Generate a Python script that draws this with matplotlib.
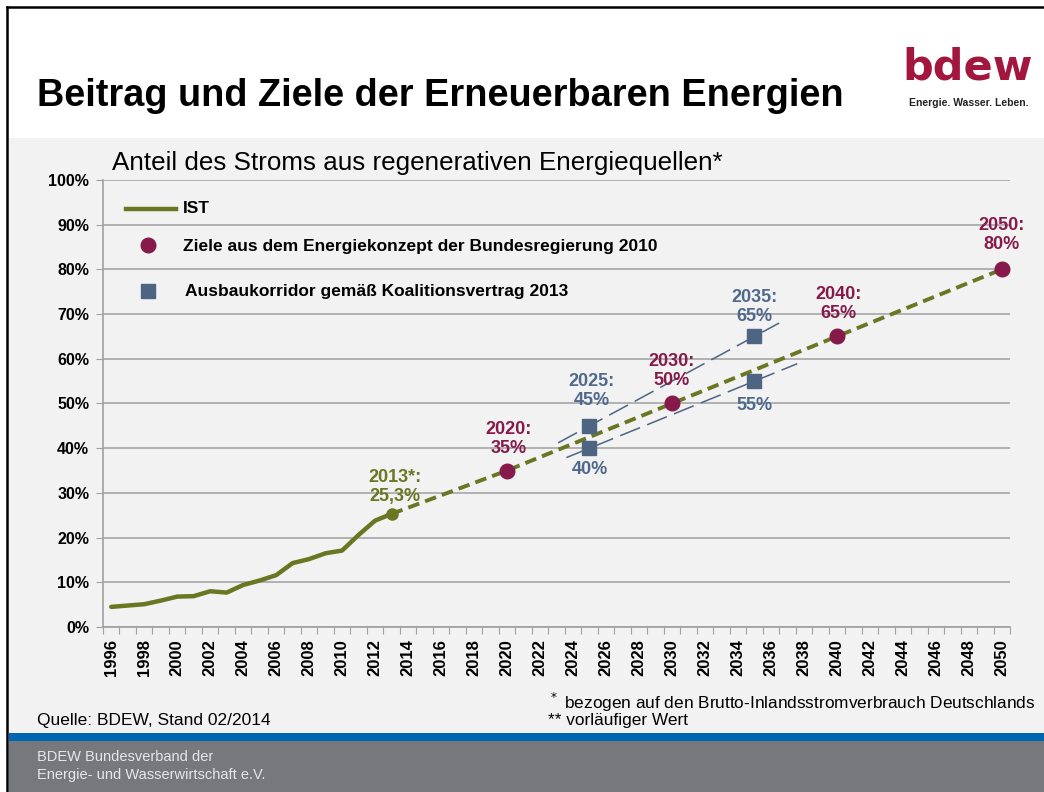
import numpy as np
import matplotlib
matplotlib.use('Agg')
import matplotlib.pyplot as plt
from matplotlib.patches import Rectangle
from matplotlib.lines import Line2D

plt.rcParams['font.family'] = ['Liberation Sans', 'DejaVu Sans']

# IST values (share of renewables in gross electricity consumption, %)
ist_years = [1996, 1997, 1998, 1999, 2000, 2001, 2002, 2003, 2004, 2005, 2006,
             2007, 2008, 2009, 2010, 2011, 2012, 2013]
ist_share = [4.5, 4.8, 5.1, 5.9, 6.8, 6.9, 8.0, 7.7, 9.4, 10.4, 11.6,
             14.3, 15.2, 16.5, 17.1, 20.6, 23.8, 25.3]

# targets of the Energiekonzept 2010
ziel_years = [2020, 2030, 2040, 2050]
ziel_share = [35, 50, 65, 80]

# Ausbaukorridor 2013
korr_years = [2025, 2025, 2035, 2035]
korr_share = [45, 40, 65, 55]

W, H = 1044, 792
olive = '#6A7622'
maroon = '#861A4A'
slate = '#4D6483'
slate_txt = '#50698A'

fig = plt.figure(figsize=(W / 100, H / 100), dpi=100)
fig.patch.set_facecolor('white')


def px_rect(x0, y0, x1, y1, color):
    # pixel box (top-left origin) -> figure fractions
    fig.add_artist(Rectangle((x0 / W, 1 - y1 / H), (x1 - x0) / W, (y1 - y0) / H,
                             transform=fig.transFigure, color=color, lw=0, zorder=0))


px_rect(9, 138, W, 733, '#F2F2F2')
px_rect(9, 733, W, 741, '#0066B2')
px_rect(9, 741, W, H, '#77787B')
fig.add_artist(Line2D([7 / W, 7 / W], [0, 1 - 7 / H], transform=fig.transFigure,
                      color='black', lw=1.8))
fig.add_artist(Line2D([7 / W, 1], [1 - 7 / H, 1 - 7 / H], transform=fig.transFigure,
                      color='black', lw=1.8))

# header
fig.text(37 / W, 1 - 96 / H, 'Beitrag und Ziele der Erneuerbaren Energien',
         fontsize=27.3, fontweight='bold', va='center', ha='left')
fig.text(968 / W, 1 - 67 / H, 'bdew', fontsize=31, color='#A3173E',
         family='DejaVu Sans', fontweight='bold', va='center', ha='center')
fig.text(969 / W, 1 - 103 / H, 'Energie. Wasser. Leben.', fontsize=7.5,
         fontweight='bold', color='#222222', va='center', ha='center')

fig.text(112 / W, 1 - 163 / H, 'Anteil des Stroms aus regenerativen Energiequellen*',
         fontsize=18.7, va='center', ha='left')

# footnotes
fig.text(37 / W, 1 - 721 / H, 'Quelle: BDEW, Stand 02/2014', fontsize=12.5, va='center')
fig.text(548 / W, 1 - 702 / H, r'$^*$ bezogen auf den Brutto-Inlandsstromverbrauch Deutschlands',
         fontsize=12.4, va='center')
fig.text(548 / W, 1 - 721 / H, '** vorläufiger Wert', fontsize=12.4, va='center')
fig.text(37 / W, 1 - 757 / H, 'BDEW Bundesverband der', fontsize=10.5,
         color='#E6E6E6', va='center')
fig.text(37 / W, 1 - 775 / H, 'Energie- und Wasserwirtschaft e.V.', fontsize=10.5,
         color='#E6E6E6', va='center')

# chart axes
ax = fig.add_axes([103 / W, 1 - 627 / H, (1010 - 103) / W, (627 - 180) / H])
ax.set_facecolor('none')
ax.set_xlim(1995.5, 2050.5)
ax.set_ylim(0, 100)

for s in ['top', 'right']:
    ax.spines[s].set_visible(False)
for s in ['left', 'bottom']:
    ax.spines[s].set_color('#A0A0A0')
    ax.spines[s].set_linewidth(1.2)

ax.set_yticks(range(0, 101, 10))
ax.set_yticklabels([f'{v}%' for v in range(0, 101, 10)], fontsize=11.5, fontweight='bold')
ax.yaxis.grid(True, color='#A6A6A6', lw=1.2, zorder=0)
ax.set_axisbelow(True)
ax.tick_params(axis='y', length=5, color='#A0A0A0', pad=5)

ax.set_xticks(np.arange(1995.5, 2051, 1.0))
ax.set_xticklabels([])
ax.tick_params(axis='x', which='major', length=5, color='#A0A0A0')
label_years = list(range(1996, 2051, 2))
ax.set_xticks(label_years, minor=True)
ax.set_xticklabels([str(y) for y in label_years], minor=True, rotation=90,
                   fontsize=12, fontweight='bold')
ax.tick_params(axis='x', which='minor', length=0, pad=9)

# corridor lines
ax.plot([2023.1, 2036.5], [45 + 2.0 * (2023.1 - 2025), 65 + 2.0 * (2036.5 - 2035)],
        color=slate, lw=1.1, dashes=(14, 5), zorder=2)
ax.plot([2023.6, 2037.6], [40 + 1.5 * (2023.6 - 2025), 55 + 1.5 * (2037.6 - 2035)],
        color=slate, lw=1.1, dashes=(14, 5), zorder=2)

# IST and target path
ax.plot(ist_years, ist_share, color=olive, lw=3.2, solid_capstyle='round', zorder=3,
        label='IST')
ax.plot([ist_years[-1]] + ziel_years, [ist_share[-1]] + ziel_share, color=olive,
        lw=2.8, dashes=(3.0, 1.6), zorder=3)
ax.plot(ist_years[-1], ist_share[-1], 'o', color=olive, ms=8, zorder=4)

ax.plot(ziel_years, ziel_share, 'o', color=maroon, ms=10.5, ls='none', zorder=5)
ax.plot(korr_years, korr_share, 's', color=slate, ms=10.5, ls='none', zorder=5)

# legend (manual, like the slide)
ax.plot([1996.9, 1999.9], [93.6, 93.6], color=olive, lw=3.2, clip_on=False)
ax.plot([1998.2], [85.4], 'o', color=maroon, ms=10.5, clip_on=False)
ax.plot([1998.2], [75.2], 's', color=slate, ms=10, clip_on=False)
ax.text(2000.35, 93.6, 'IST', fontsize=12.5, fontweight='bold', va='center')
ax.text(2000.35, 85.2, 'Ziele aus dem Energiekonzept der Bundesregierung 2010',
        fontsize=12.5, fontweight='bold', va='center')
ax.text(2000.45, 75.0, 'Ausbaukorridor gemäß Koalitionsvertrag 2013',
        fontsize=12.5, fontweight='bold', va='center')

# point labels: (x, y, text, colour, offset in points)
lab = dict(fontsize=13, fontweight='bold', ha='center', va='center',
           textcoords='offset points', linespacing=1.15, zorder=6)
ax.annotate(f'{ist_years[-1]}*:\n{ist_share[-1]:.1f}%'.replace('.', ','),
            (ist_years[-1], ist_share[-1]), xytext=(2.5, 19.5), color=olive, **lab)
ziel_off = [(1, 22.7), (0, 23.4), (1, 23.4), (0, 25)]
for yr, v, off in zip(ziel_years, ziel_share, ziel_off):
    ax.annotate(f'{yr}:\n{v}%', (yr, v), xytext=off, color=maroon, **lab)
korr_off = [(1.5, 25), (0, -15), (0, 21.2), (0, -17.3)]
for i, (yr, v, off) in enumerate(zip(korr_years, korr_share, korr_off)):
    txt = f'{yr}:\n{v}%' if i % 2 == 0 else f'{v}%'
    ax.annotate(txt, (yr, v), xytext=off, color=slate_txt, **lab)

fig.savefig('out.png', dpi=100)
